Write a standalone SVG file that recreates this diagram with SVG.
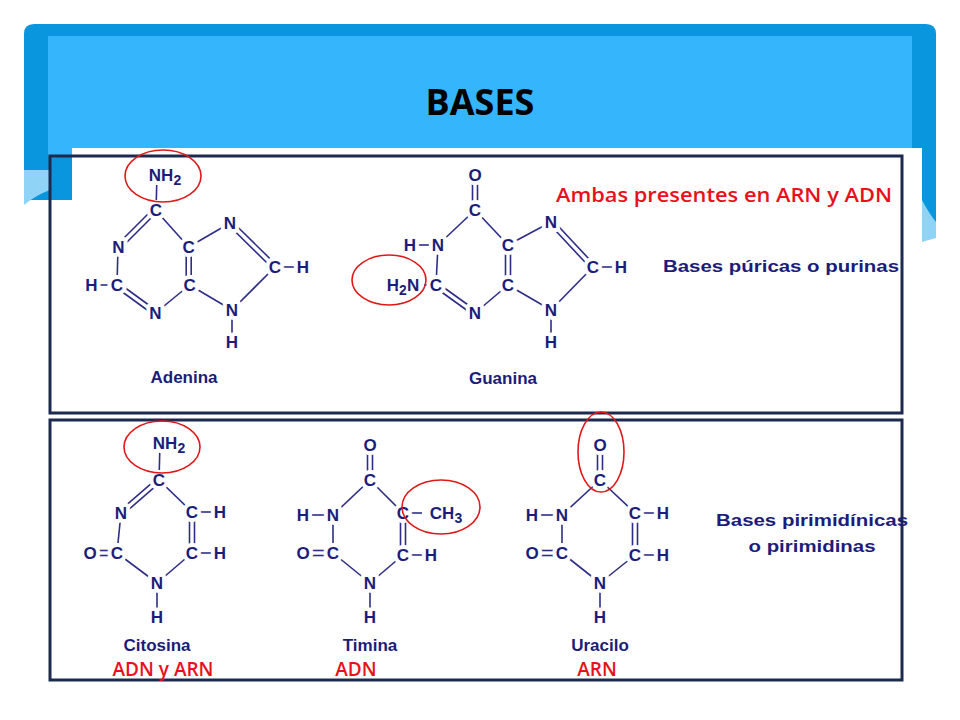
<svg xmlns="http://www.w3.org/2000/svg" width="960" height="720" viewBox="0 0 960 720">
<style>
.a{font-family:"Liberation Sans",Arial,sans-serif;font-weight:bold;font-size:17px;fill:#1c1c7a;text-anchor:middle;dominant-baseline:central;stroke:#fff;stroke-width:8;paint-order:stroke;stroke-linejoin:round}
.a tspan{stroke-width:4}
.lbl{font-family:"Liberation Sans",Arial,sans-serif;font-weight:bold;font-size:17px;fill:#1c1c7a;text-anchor:middle}
.red{font-family:"Open Sans","Liberation Sans",sans-serif;font-weight:600;font-size:19px;fill:#e8101a;text-anchor:middle}
.b line{stroke:#2e2e86;stroke-width:1.6}
.ring{fill:none;stroke:#e01818;stroke-width:1.6}
.frame{fill:none;stroke:#1b2a4e;stroke-width:3}
</style>
<rect width="960" height="720" fill="#fff"/>
<g id="header">
<path d="M34 24 H926 Q936 24 936 34 V236 Q930 238 922 240 V200 H24 V34 Q24 24 34 24 Z" fill="#0a96df"/>
<path d="M922 200 Q930 215 936 222 V238 L922 242 Z" fill="#8fd3f7"/>
<path d="M24 170 V205 Q36 195 50 190 V170 Z" fill="#8fd3f7"/>
<rect x="48" y="36" width="864" height="120" fill="#35b5fb"/>
<text x="480" y="115" font-family="Open Sans,Liberation Sans,sans-serif" font-weight="bold" font-size="36" text-anchor="middle" fill="#000">BASES</text>
</g>
<rect x="72" y="148" width="850" height="540" fill="#fff"/>
<g id="frames">
<rect x="50" y="156" width="852" height="257" class="frame"/>
<rect x="50" y="420" width="852" height="260" class="frame"/>
</g>
<g id="connectors" class="b">
<line x1="157" y1="175" x2="156" y2="210"/>
<line x1="153.7" y1="208.2" x2="116.7" y2="245.2"/><line x1="157.3" y1="211.8" x2="120.3" y2="248.8"/>
<line x1="118" y1="247" x2="117" y2="285"/>
<line x1="92" y1="285" x2="117" y2="285"/>
<line x1="118.5" y1="283" x2="157" y2="311"/><line x1="115.5" y1="287" x2="154" y2="315"/>
<line x1="155.5" y1="313" x2="189.6" y2="285"/>
<line x1="186.2" y1="247" x2="186.2" y2="285"/><line x1="191.2" y1="247" x2="191.2" y2="285"/>
<line x1="188.7" y1="247" x2="155.5" y2="210"/>
<line x1="188.7" y1="247" x2="230" y2="223"/>
<line x1="231.8" y1="221.2" x2="276.6" y2="265.2"/><line x1="228.2" y1="224.8" x2="273" y2="268.8"/>
<line x1="275" y1="267" x2="303" y2="267"/>
<line x1="275" y1="267" x2="232" y2="310"/>
<line x1="232" y1="310" x2="189.6" y2="285"/>
<line x1="232" y1="310" x2="232" y2="342"/>
<line x1="472.5" y1="175" x2="472.5" y2="210"/><line x1="477.5" y1="175" x2="477.5" y2="210"/>
<line x1="475" y1="210" x2="438" y2="245"/>
<line x1="410" y1="245" x2="438" y2="245"/>
<line x1="438" y1="245" x2="436" y2="285"/>
<line x1="424" y1="285" x2="436" y2="285"/>
<line x1="437.5" y1="283" x2="476.5" y2="311"/><line x1="434.5" y1="287" x2="473.5" y2="315"/>
<line x1="475" y1="313" x2="508" y2="285"/>
<line x1="505.5" y1="245" x2="505.5" y2="285"/><line x1="510.5" y1="245" x2="510.5" y2="285"/>
<line x1="508" y1="245" x2="475" y2="210"/>
<line x1="508" y1="245" x2="551" y2="222"/>
<line x1="552.8" y1="220.2" x2="594.8" y2="265.2"/><line x1="549.2" y1="223.8" x2="591.2" y2="268.8"/>
<line x1="593" y1="267" x2="621" y2="267"/>
<line x1="593" y1="267" x2="551" y2="310"/>
<line x1="551" y1="310" x2="508" y2="285"/>
<line x1="551" y1="310" x2="551" y2="342"/>
<line x1="160" y1="443" x2="159" y2="480"/>
<line x1="157.2" y1="478.3" x2="119.2" y2="511.3"/><line x1="160.8" y1="481.7" x2="122.8" y2="514.7"/>
<line x1="121" y1="513" x2="117" y2="553"/>
<line x1="90" y1="550.5" x2="117" y2="550.5"/><line x1="90" y1="555.5" x2="117" y2="555.5"/>
<line x1="117" y1="553" x2="157" y2="583"/>
<line x1="157" y1="583" x2="157" y2="617"/>
<line x1="157" y1="583" x2="192" y2="553"/>
<line x1="189.5" y1="512" x2="189.5" y2="553"/><line x1="194.5" y1="512" x2="194.5" y2="553"/>
<line x1="192" y1="512" x2="159" y2="480"/>
<line x1="192" y1="512" x2="220" y2="512"/><line x1="192" y1="553" x2="220" y2="553"/>
<line x1="367.5" y1="445" x2="367.5" y2="480"/><line x1="372.5" y1="445" x2="372.5" y2="480"/>
<line x1="370" y1="480" x2="333" y2="515"/>
<line x1="303" y1="515" x2="333" y2="515"/>
<line x1="333" y1="515" x2="333" y2="553"/>
<line x1="303" y1="550.5" x2="333" y2="550.5"/><line x1="303" y1="555.5" x2="333" y2="555.5"/>
<line x1="333" y1="553" x2="370" y2="583"/>
<line x1="370" y1="583" x2="370" y2="617"/>
<line x1="370" y1="583" x2="403" y2="555"/>
<line x1="400.5" y1="513" x2="400.5" y2="555"/><line x1="405.5" y1="513" x2="405.5" y2="555"/>
<line x1="403" y1="513" x2="370" y2="480"/>
<line x1="403" y1="513" x2="422" y2="513"/>
<line x1="403" y1="555" x2="431" y2="555"/>
<line x1="597.5" y1="445" x2="597.5" y2="480"/><line x1="602.5" y1="445" x2="602.5" y2="480"/>
<line x1="600" y1="480" x2="562" y2="515"/>
<line x1="532" y1="515" x2="562" y2="515"/>
<line x1="562" y1="515" x2="562" y2="553"/>
<line x1="532" y1="550.5" x2="562" y2="550.5"/><line x1="532" y1="555.5" x2="562" y2="555.5"/>
<line x1="562" y1="553" x2="600" y2="583"/>
<line x1="600" y1="583" x2="600" y2="617"/>
<line x1="600" y1="583" x2="635" y2="555"/>
<line x1="632.5" y1="513" x2="632.5" y2="555"/><line x1="637.5" y1="513" x2="637.5" y2="555"/>
<line x1="635" y1="513" x2="600" y2="480"/>
<line x1="635" y1="513" x2="663" y2="513"/><line x1="635" y1="555" x2="663" y2="555"/>
</g>
<g id="adenina">
<text class="a" x="165" y="175">NH<tspan font-size="14" dy="5">2</tspan></text>
<text class="a" x="156" y="210">C</text><text class="a" x="118.5" y="247">N</text><text class="a" x="117" y="285">C</text><text class="a" x="91.5" y="285">H</text>
<text class="a" x="155.5" y="313">N</text><text class="a" x="189.6" y="285">C</text><text class="a" x="188.7" y="247">C</text>
<text class="a" x="230" y="223">N</text><text class="a" x="275" y="267">C</text><text class="a" x="303" y="267">H</text>
<text class="a" x="232" y="310">N</text><text class="a" x="232" y="342">H</text>
<text class="lbl" x="184" y="383">Adenina</text>
<ellipse class="ring" cx="163" cy="176" rx="38" ry="26"/>
</g>
<g id="guanina">
<text class="a" x="475" y="175">O</text><text class="a" x="475" y="210">C</text><text class="a" x="438" y="245">N</text><text class="a" x="410" y="245">H</text>
<text class="a" x="436" y="285">C</text>
<text class="a" x="403" y="285">H<tspan font-size="14" dy="5">2</tspan><tspan dy="-5">N</tspan></text>
<text class="a" x="475" y="313">N</text><text class="a" x="508" y="285">C</text><text class="a" x="508" y="245">C</text>
<text class="a" x="551" y="222">N</text><text class="a" x="593" y="267">C</text><text class="a" x="621" y="267">H</text>
<text class="a" x="551" y="310">N</text><text class="a" x="551" y="342">H</text>
<text class="lbl" x="503" y="384">Guanina</text>
<ellipse class="ring" cx="389" cy="280" rx="37" ry="25"/>
</g>
<g id="purinas">
<text class="red" x="724" y="202" textLength="336" lengthAdjust="spacingAndGlyphs">Ambas presentes en ARN y ADN</text>
<text class="lbl" x="781" y="272" textLength="236" lengthAdjust="spacingAndGlyphs">Bases púricas o purinas</text>
</g>
<g id="citosina">
<text class="a" x="169" y="443">NH<tspan font-size="14" dy="5">2</tspan></text>
<text class="a" x="159" y="480">C</text><text class="a" x="121" y="513">N</text><text class="a" x="117" y="553">C</text><text class="a" x="90" y="553">O</text>
<text class="a" x="157" y="583">N</text><text class="a" x="157" y="617">H</text>
<text class="a" x="192" y="512">C</text><text class="a" x="220" y="512">H</text><text class="a" x="192" y="553">C</text><text class="a" x="220" y="553">H</text>
<text class="lbl" x="157" y="651">Citosina</text>
<text class="red" x="163" y="676">ADN y ARN</text>
<ellipse class="ring" cx="162" cy="447" rx="38" ry="26"/>
</g>
<g id="timina">
<text class="a" x="370" y="445">O</text><text class="a" x="370" y="480">C</text><text class="a" x="333" y="515">N</text><text class="a" x="303" y="515">H</text>
<text class="a" x="333" y="553">C</text><text class="a" x="303" y="553">O</text>
<text class="a" x="370" y="583">N</text><text class="a" x="370" y="617">H</text>
<text class="a" x="403" y="513">C</text><text class="a" x="446" y="513">CH<tspan font-size="14" dy="5">3</tspan></text>
<text class="a" x="403" y="555">C</text><text class="a" x="431" y="555">H</text>
<text class="lbl" x="370" y="651">Timina</text>
<text class="red" x="356" y="676">ADN</text>
<ellipse class="ring" cx="441" cy="507" rx="39" ry="27"/>
</g>
<g id="uracilo">
<text class="a" x="600" y="445">O</text><text class="a" x="600" y="480">C</text><text class="a" x="562" y="515">N</text><text class="a" x="532" y="515">H</text>
<text class="a" x="562" y="553">C</text><text class="a" x="532" y="553">O</text>
<text class="a" x="600" y="583">N</text><text class="a" x="600" y="617">H</text>
<text class="a" x="635" y="513">C</text><text class="a" x="663" y="513">H</text><text class="a" x="635" y="555">C</text><text class="a" x="663" y="555">H</text>
<text class="lbl" x="600" y="651">Uracilo</text>
<text class="red" x="597" y="676">ARN</text>
<ellipse class="ring" cx="601" cy="452" rx="23" ry="40"/>
</g>
<g id="pirimidinas">
<text class="lbl" x="812" y="526" textLength="192" lengthAdjust="spacingAndGlyphs">Bases pirimidínicas</text>
<text class="lbl" x="812" y="552" textLength="127" lengthAdjust="spacingAndGlyphs">o pirimidinas</text>
</g>
</svg>
